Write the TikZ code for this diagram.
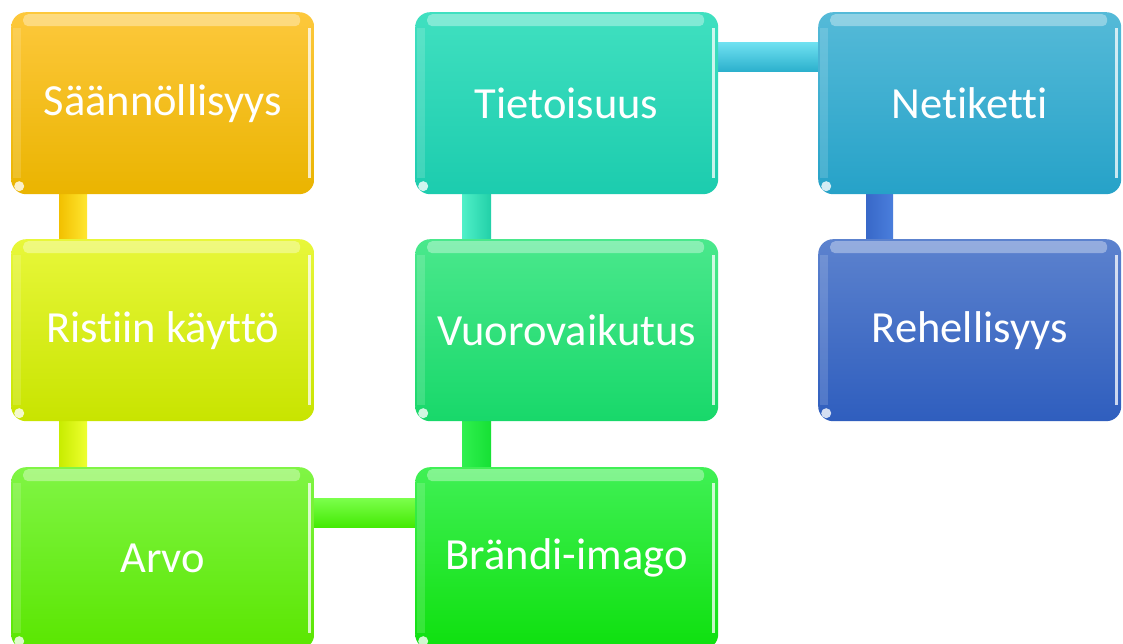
\documentclass[tikz,border=0pt]{standalone}
\usepackage{fontspec}
\setmainfont{Carlito}[Ligatures=NoCommon]
\usetikzlibrary{backgrounds}

\definecolor{c1t}{HTML}{FDC83C}\definecolor{c1b}{HTML}{EAB400}
\definecolor{c2t}{HTML}{E8F73A}\definecolor{c2b}{HTML}{C8E400}
\definecolor{c3t}{HTML}{80F545}\definecolor{c3b}{HTML}{5AE600}
\definecolor{c4t}{HTML}{40F055}\definecolor{c4b}{HTML}{0EE00E}
\definecolor{c5t}{HTML}{4AE88C}\definecolor{c5b}{HTML}{18D86A}
\definecolor{c6t}{HTML}{40E0C0}\definecolor{c6b}{HTML}{1CCCAE}
\definecolor{c7t}{HTML}{55BAD8}\definecolor{c7b}{HTML}{26A2C8}
\definecolor{c8t}{HTML}{5C82CE}\definecolor{c8b}{HTML}{2F5EBE}
% bar colours: base / highlight
\definecolor{b1a}{HTML}{F2C000}\definecolor{b1b}{HTML}{FFE630}
\definecolor{b2a}{HTML}{C8EC00}\definecolor{b2b}{HTML}{EEFF30}
\definecolor{b3a}{HTML}{44EA04}\definecolor{b3b}{HTML}{7CFF4C}
\definecolor{b4a}{HTML}{30F050}\definecolor{b4b}{HTML}{16E034}
\definecolor{b5a}{HTML}{50F0C8}\definecolor{b5b}{HTML}{22D0A8}
\definecolor{b6a}{HTML}{2AAFCC}\definecolor{b6b}{HTML}{6EE0F0}
\definecolor{b7a}{HTML}{3868C8}\definecolor{b7b}{HTML}{4A7EDC}

\tikzset{
  x=1pt, y=-1pt,
  gloss/.style={path picture={
    % glossy top band
    \fill[white,opacity=.35,rounded corners=5pt]
      ([xshift=12pt,yshift=-2pt]path picture bounding box.north west) rectangle
      ([xshift=-14pt,yshift=-14pt]path picture bounding box.north east);
    % bright right rim
    \fill[white,opacity=.75,sharp corners]
      ([xshift=-6pt,yshift=-16pt]path picture bounding box.north east) rectangle
      ([xshift=-3pt,yshift=16pt]path picture bounding box.south east);
    % soft left rim
    \fill[white,opacity=.15,sharp corners]
      ([xshift=2pt,yshift=-16pt]path picture bounding box.north west) rectangle
      ([xshift=10pt,yshift=16pt]path picture bounding box.south west);
    % corner glint
    \fill[white,opacity=.8]
      ([xshift=8pt,yshift=8pt]path picture bounding box.south west) circle (5pt);
  }},
  box/.style 2 args={anchor=north west, minimum width=303pt, minimum height=182pt,
    inner sep=0pt, rounded corners=15pt, top color=#1, bottom color=#2,
    text=white, font=\fontsize{44.5}{50}\selectfont, gloss},
  vbar/.style 2 args={left color=#1, right color=#2},
  hbar/.style 2 args={top color=#2, bottom color=#1},
}

\begin{document}
\begin{tikzpicture}
\useasboundingbox (0,0) rectangle (1123,644);

\node[box={c1t}{c1b}] (s1) at (11,12)   {Säännöllisyys};
\node[box={c2t}{c2b}] (s2) at (11,239)  {Ristiin käyttö};
\node[box={c3t}{c3b}] (s3) at (11,467)  {Arvo};
\node[box={c4t}{c4b}] (s4) at (415,467) {Brändi-imago};
\node[box={c5t}{c5b}] (s5) at (415,239) {Vuorovaikutus};
\node[box={c6t}{c6b}] (s6) at (415,12)  {Tietoisuus};
\node[box={c7t}{c7b}] (s7) at (818,12)  {Netiketti};
\node[box={c8t}{c8b}] (s8) at (818,239) {Rehellisyys};

\begin{scope}[on background layer]
  \fill[white] (0,0) rectangle (1123,644);
  % connecting bars
  \shade[vbar={b1a}{b1b}]
    ([xshift=48pt,yshift=2pt]s1.south west) rectangle ([xshift=76pt,yshift=-2pt]s2.north west);
  \shade[vbar={b2a}{b2b}]
    ([xshift=48pt,yshift=2pt]s2.south west) rectangle ([xshift=76pt,yshift=-2pt]s3.north west);
  \shade[hbar={b3a}{b3b}]
    ([xshift=-2pt,yshift=-31pt]s3.north east) rectangle ([xshift=2pt,yshift=-60pt]s4.north west);
  \shade[vbar={b4a}{b4b}]
    ([xshift=47pt,yshift=-2pt]s4.north west) rectangle ([xshift=76pt,yshift=2pt]s5.south west);
  \shade[vbar={b5a}{b5b}]
    ([xshift=47pt,yshift=-2pt]s5.north west) rectangle ([xshift=76pt,yshift=2pt]s6.south west);
  \shade[hbar={b6a}{b6b}]
    ([xshift=-2pt,yshift=-31pt]s6.north east) rectangle ([xshift=2pt,yshift=-60pt]s7.north west);
  \shade[vbar={b7a}{b7b}]
    ([xshift=48pt,yshift=2pt]s7.south west) rectangle ([xshift=75pt,yshift=-2pt]s8.north west);
\end{scope}
\end{tikzpicture}
\end{document}
